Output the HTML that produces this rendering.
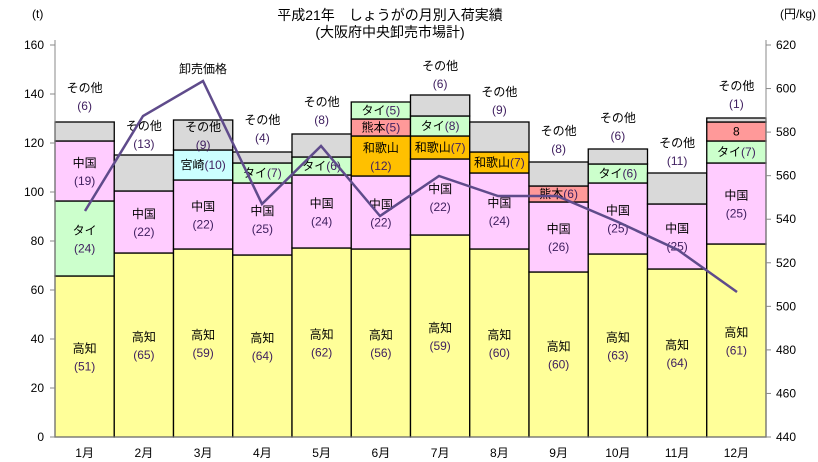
<!DOCTYPE html>
<html><head><meta charset="utf-8"><style>
body{margin:0;background:#fff}
svg{display:block;font-family:"Liberation Sans","Noto Sans CJK JP",sans-serif}
text{font-size:12px;fill:#000}
.n{fill:#402060}
</style></head><body>
<svg width="818" height="462" viewBox="0 0 818 462" xmlns="http://www.w3.org/2000/svg">
<text x="390" y="20" text-anchor="middle" style="font-size:14px">平成21年　しょうがの月別入荷実績</text>
<text x="390" y="37" text-anchor="middle" style="font-size:14px">(大阪府中央卸売市場計)</text>
<text x="32" y="18">(t)</text>
<text x="780" y="18">(円/kg)</text>
<g id="bars" stroke="#000" stroke-width="1.3"></g>
<g id="labels" text-anchor="middle"></g>
<polyline fill="none" stroke="#5f4b8b" stroke-width="2.5" points="85,211 143,116 203,81 262,204 321,146 380,216 439,176 498,196 557,196 618,222 678,250 737,292"/>
<text x="203" y="73" text-anchor="middle">卸売価格</text>
<g stroke="#888" stroke-width="1">
<line x1="55" y1="40" x2="55" y2="437"/><line x1="766" y1="40" x2="766" y2="437"/>
<line x1="55" y1="437" x2="766" y2="437"/>
</g>
<g id="ticks"></g>
</svg>
<script>
var NS="http://www.w3.org/2000/svg";
function el(p,t,a,txt){var e=document.createElementNS(NS,t);for(var k in a)e.setAttribute(k,a[k]);if(txt!==undefined)e.textContent=txt;p.appendChild(e);return e;}
var C={k:"#ffff99",c:"#ffccff",t:"#ccffcc",o:"#d9d9d9",m:"#ccffff",u:"#ff9999",w:"#ffc000"};
// [color, top, name, num, oneLine]
var D=[
[["k",276,"高知","51"],["t",201,"タイ","24"],["c",141,"中国","19"],["o",122]],
[["k",253,"高知","65"],["c",191,"中国","22"],["o",155]],
[["k",249,"高知","59"],["c",180,"中国","22"],["m",150,"宮崎","10",1],["o",120,"その他","9"]],
[["k",255,"高知","64"],["c",183,"中国","25"],["t",163,"タイ","7",1],["o",152]],
[["k",248,"高知","62"],["c",175,"中国","24"],["t",157,"タイ","6",1],["o",134]],
[["k",249,"高知","56"],["c",176,"中国","22"],["w",136,"和歌山","12"],["u",119,"熊本","5",1],["t",102,"タイ","5",1]],
[["k",235,"高知","59"],["c",159,"中国","22"],["w",136,"和歌山","7",1],["t",116,"タイ","8",1],["o",95]],
[["k",249,"高知","60"],["c",173,"中国","24"],["w",152,"和歌山","7",1],["o",122]],
[["k",272,"高知","60"],["c",202,"中国","26"],["u",186,"熊本","6",1],["o",162]],
[["k",254,"高知","63"],["c",183,"中国","25"],["t",164,"タイ","6",1],["o",149]],
[["k",269,"高知","64"],["c",204,"中国","25"],["o",173]],
[["k",244,"高知","61"],["c",163,"中国","25"],["t",141,"タイ","7",1],["u",122,"8","",2],["o",118]]
];
var out=[[88,"6"],[126,"13"],null,[120,"4"],[102,"8"],null,[66,"6"],[92,"9"],[131,"8"],[118,"6"],[143,"11"],[86,"1"]];
var B=document.getElementById("bars"),L=document.getElementById("labels");
var x0=55,w=59.25;
D.forEach(function(m,i){
 var x=x0+i*w,bot=437,cx=x+w/2;
 m.forEach(function(s){
  el(B,"rect",{x:x,y:s[1],width:w,height:bot-s[1],fill:C[s[0]]});
  if(s[2]!==undefined){
   var mid=(s[1]+bot)/2;
   if(s[4]==1){var t=el(L,"text",{x:cx,y:mid+4});el(t,"tspan",{},s[2]);el(t,"tspan",{"class":"n"},"("+s[3]+")");}
   else if(s[4]==2){el(L,"text",{x:cx,y:mid+4},s[2]);}
   else{el(L,"text",{x:cx,y:mid-4},s[2]);el(L,"text",{x:cx,y:mid+14,"class":"n"},"("+s[3]+")");}
  }
  bot=s[1];
 });
 if(out[i]){el(L,"text",{x:cx,y:out[i][0]+4},"その他");el(L,"text",{x:cx,y:out[i][0]+22,"class":"n"},"("+out[i][1]+")");}
 el(L,"text",{x:cx,y:457},(i+1)+"月");
});
var T=document.getElementById("ticks");
for(var v=0;v<=8;v++){var y=437-v*49;
 el(T,"line",{x1:50,y1:y,x2:55,y2:y,stroke:"#888"});
 el(T,"text",{x:44,y:y+4,"text-anchor":"end"},String(v*20));}
for(var v=0;v<=9;v++){var y=437-v*392/9;
 el(T,"line",{x1:766,y1:y,x2:771,y2:y,stroke:"#888"});
 el(T,"text",{x:776,y:y+4},String(440+v*20));}
</script>
</body></html>
